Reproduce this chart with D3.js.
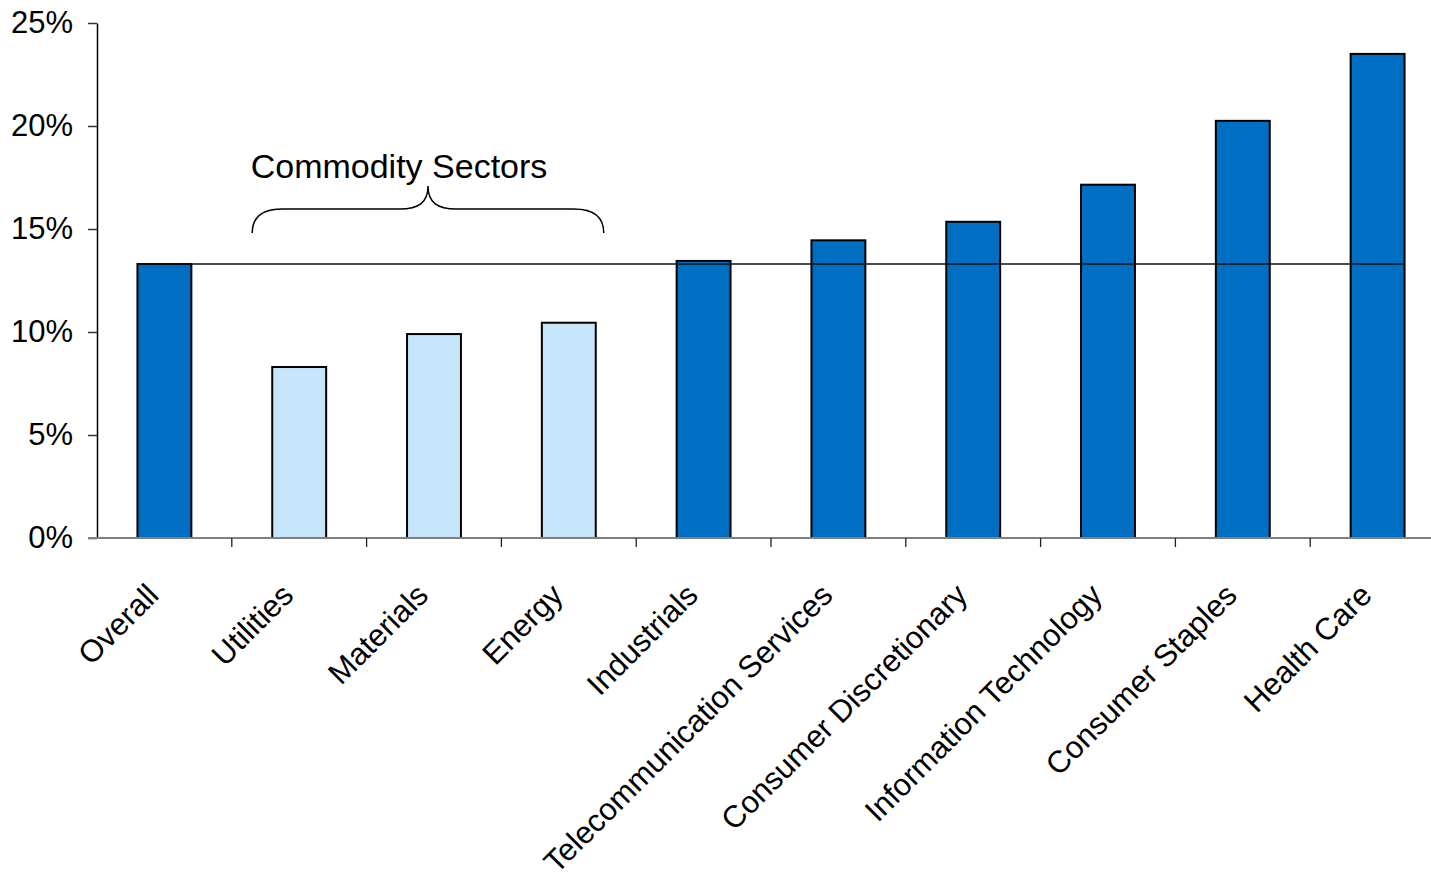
<!DOCTYPE html>
<html>
<head>
<meta charset="utf-8">
<script src="https://cdn.jsdelivr.net/npm/d3@7"></script>
<style>
  body { margin: 0; background: #fff; }
  svg { display: block; font-family: "Liberation Sans", Arial, sans-serif; }
</style>
</head>
<body>
<div id="chart"></div>
<script>
// sector returns
const categories = ['Overall', 'Utilities', 'Materials', 'Energy', 'Industrials',
  'Telecommunication Services', 'Consumer Discretionary', 'Information Technology',
  'Consumer Staples', 'Health Care'];
const values = [13.3, 8.3, 9.9, 10.45, 13.45, 14.45, 15.35, 17.15, 20.25, 23.5];
const commodity = [false, true, true, true, false, false, false, false, false, false];
const yTicks = [0, 5, 10, 15, 20, 25];
const braceLabel = 'Commodity Sectors';

const width = 1431;
const height = 876;
const plotLeft = 97, plotTop = 23, plotBottom = 538;

const data = categories.map((c, i) => ({name: c, value: values[i], commodity: commodity[i]}));

const svg = d3.select('#chart').append('svg')
  .attr('width', width)
  .attr('height', height);

const x = d3.scaleBand()
  .domain(categories)
  .range([plotLeft, 1445]);

const y = d3.scaleLinear()
  .domain([0, 25])
  .range([plotBottom, plotTop]);

const bw = x.bandwidth();

// bars
svg.selectAll('rect.bar')
  .data(data)
  .enter().append('rect')
    .attr('class', 'bar')
    .attr('x', d => x(d.name) + bw * 0.3)
    .attr('y', d => y(d.value))
    .attr('width', bw * 0.4)
    .attr('height', d => y(0) - y(d.value))
    .style('fill', d => d.commodity ? '#c6e5fb' : '#006fc3')
    .style('stroke', '#000')
    .style('stroke-width', 2);

// overall reference line across all bars
const first = categories[0], last = categories[categories.length - 1];
svg.append('line')
  .attr('x1', x(first) + bw * 0.3)
  .attr('x2', x(last) + bw * 0.7)
  .attr('y1', y(values[0]))
  .attr('y2', y(values[0]))
  .style('stroke', '#111')
  .style('stroke-width', 1.4);

// y axis
const yAxis = svg.append('g')
  .attr('transform', `translate(${plotLeft},0)`)
  .call(d3.axisLeft(y).tickValues(yTicks).tickSize(9).tickSizeOuter(0).tickFormat(d => d + '%'));
yAxis.select('.domain').attr('stroke', '#000').attr('stroke-width', 1.5);
yAxis.selectAll('.tick line').attr('stroke', '#333').attr('stroke-width', 1.5);
yAxis.selectAll('.tick text')
  .attr('x', -24)
  .style('font-size', '31px')
  .style('fill', '#000');

// x axis line + ticks at band boundaries
svg.append('line')
  .attr('x1', plotLeft - 9).attr('x2', width)
  .attr('y1', plotBottom).attr('y2', plotBottom)
  .style('stroke', '#808080').style('stroke-width', 2);

svg.selectAll('line.xtick')
  .data(categories.slice(1))
  .enter().append('line')
    .attr('class', 'xtick')
    .attr('x1', d => x(d)).attr('x2', d => x(d))
    .attr('y1', plotBottom).attr('y2', plotBottom + 9)
    .style('stroke', '#222').style('stroke-width', 1.3);

// rotated category labels
svg.selectAll('text.xlabel')
  .data(categories)
  .enter().append('text')
    .attr('class', 'xlabel')
    .attr('transform', d => `translate(${x(d) + bw / 2 - 4},597) rotate(-45)`)
    .attr('text-anchor', 'end')
    .style('font-size', '31px')
    .style('fill', '#000')
    .text(d => d);

// commodity brace
const bx0 = x('Utilities') + bw * 0.3 - 20;
const bx1 = x('Energy') + bw * 0.7 + 8;
const bm = (bx0 + bx1) / 2;
const by0 = 233, by1 = 209, tip = 186;
const brace = d3.path();
brace.moveTo(bx0, by0);
brace.bezierCurveTo(bx0, by1 + 6, bx0 + 12, by1, bx0 + 30, by1);
brace.lineTo(bm - 28, by1);
brace.bezierCurveTo(bm - 10, by1, bm, by1 - 6, bm, tip);
brace.bezierCurveTo(bm, by1 - 6, bm + 10, by1, bm + 28, by1);
brace.lineTo(bx1 - 30, by1);
brace.bezierCurveTo(bx1 - 12, by1, bx1, by1 + 6, bx1, by0);
svg.append('path')
  .attr('d', brace.toString())
  .style('fill', 'none')
  .style('stroke', '#000')
  .style('stroke-width', 1.5);

svg.append('text')
  .attr('x', 399)
  .attr('y', 178)
  .attr('text-anchor', 'middle')
  .style('font-size', '34px')
  .style('fill', '#000')
  .text(braceLabel);
</script>
</body>
</html>
